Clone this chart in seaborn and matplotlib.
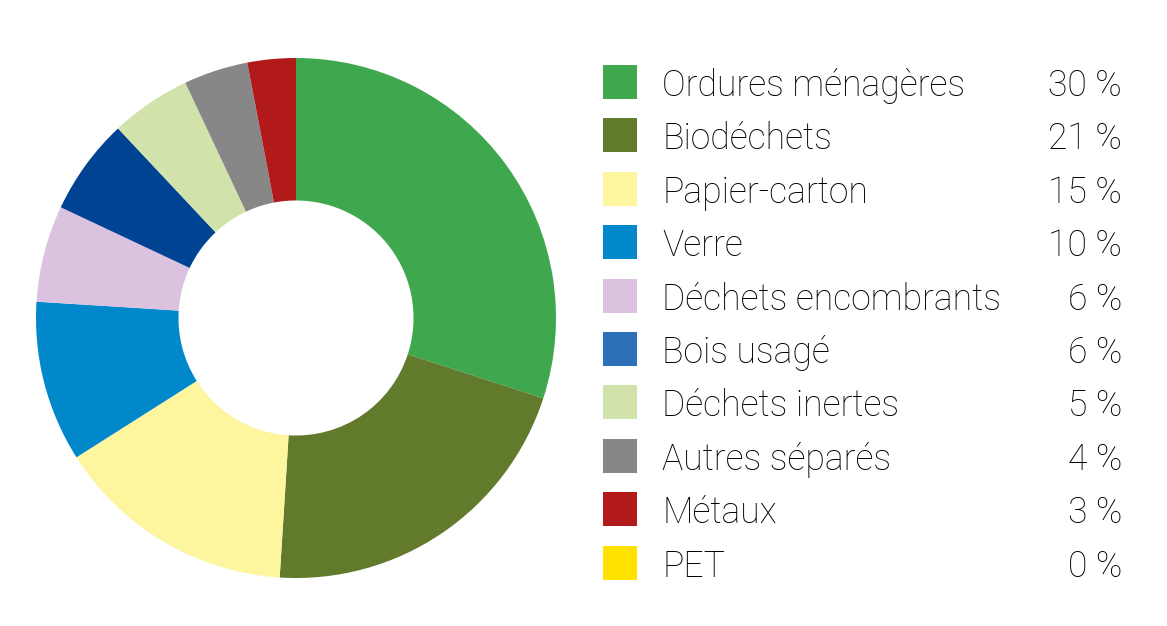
import matplotlib
matplotlib.use("Agg")
import matplotlib.pyplot as plt
from matplotlib.patches import Rectangle
import seaborn as sns

categories = ["Ordures ménagères", "Biodéchets", "Papier-carton", "Verre",
              "Déchets encombrants", "Bois usagé", "Déchets inertes",
              "Autres séparés", "Métaux", "PET"]
values = [30, 21, 15, 10, 6, 6, 5, 4, 3, 0]
pct_labels = ["30 %", "21 %", "15 %", "10 %", "6 %", "6 %", "5 %", "4 %", "3 %", "0 %"]
slice_colors = ["#3FA74E", "#627A2B", "#FEF59F", "#0088CB", "#DBC3E0",
                "#004392", "#D1E2AA", "#878787", "#B1191B", "#FFE200"]
legend_colors = ["#3FA74E", "#627A2B", "#FEF59F", "#0088CB", "#DBC3E0",
                 "#2B70B8", "#D1E2AA", "#878787", "#B1191B", "#FFE200"]

sns.set_theme(style="white")
plt.rcParams["font.family"] = ["Roboto", "DejaVu Sans"]

W, H = 1167, 626
fig = plt.figure(figsize=(W / 100, H / 100), dpi=100)
fig.patch.set_facecolor("white")

# donut
cx, cy, r = 296, 318, 260
ax = fig.add_axes([(cx - r) / W, (H - cy - r) / H, 2 * r / W, 2 * r / H])
ax.pie(values, colors=slice_colors, startangle=90, counterclock=False,
       radius=1.0, wedgeprops=dict(width=0.548, linewidth=0))
ax.set_xlim(-1, 1)
ax.set_ylim(-1, 1)
ax.set_aspect("equal")
ax.axis("off")

# legend
lx = fig.add_axes([0, 0, 1, 1])
lx.set_xlim(0, W)
lx.set_ylim(H, 0)
lx.axis("off")
y0, dy, sq = 82, 53.4, 34
for i, (lab, pct, col) in enumerate(zip(categories, pct_labels, legend_colors)):
    y = y0 + i * dy
    lx.add_patch(Rectangle((603, y - sq / 2), sq, sq, facecolor=col, edgecolor="none"))
    lx.text(662, y, lab, fontsize=25.6, fontweight="light", color="black",
            va="center_baseline", ha="left")
    lx.text(1122, y, pct, fontsize=25.6, fontweight="light", color="black",
            va="center_baseline", ha="right")

fig.savefig("out.png", dpi=100, facecolor="white")
